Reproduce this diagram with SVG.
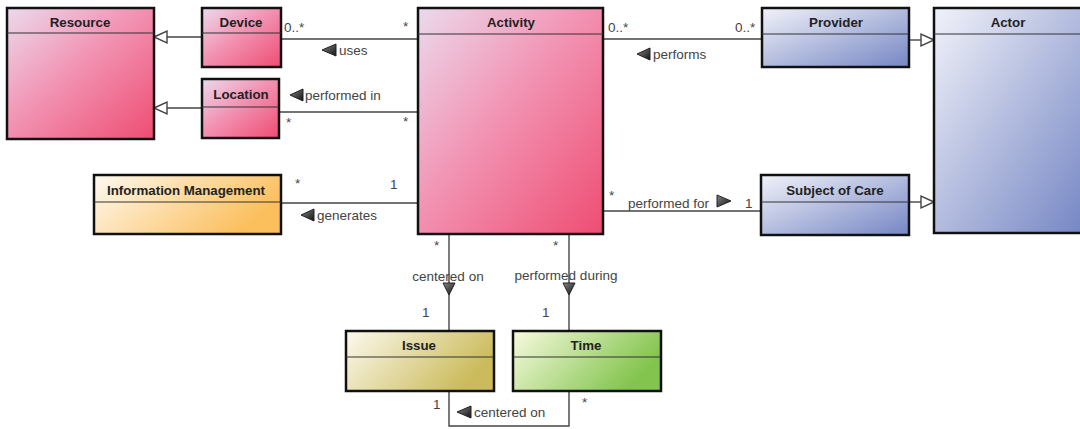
<svg xmlns="http://www.w3.org/2000/svg" width="1080" height="429" viewBox="0 0 1080 429">
<defs>
<linearGradient id="gPink" x1="0" y1="0" x2="1" y2="1"><stop offset="0" stop-color="#ebdaec"/><stop offset="0.45" stop-color="#f294b4"/><stop offset="1" stop-color="#ee4d72"/></linearGradient>
<linearGradient id="gBlue" x1="0" y1="0" x2="1" y2="1"><stop offset="0" stop-color="#f1f2f9"/><stop offset="1" stop-color="#7586c4"/></linearGradient>
<linearGradient id="gOrange" x1="0" y1="0" x2="1" y2="0.4"><stop offset="0" stop-color="#fefaf0"/><stop offset="1" stop-color="#fbbf5e"/></linearGradient>
<linearGradient id="gOlive" x1="0" y1="0" x2="1" y2="0.4"><stop offset="0" stop-color="#fcfaee"/><stop offset="1" stop-color="#cbbb5c"/></linearGradient>
<linearGradient id="gGreen" x1="0" y1="0" x2="1" y2="0.4"><stop offset="0" stop-color="#f8fadf"/><stop offset="1" stop-color="#82c44d"/></linearGradient>
<linearGradient id="gArrow" x1="0" y1="0" x2="1" y2="1"><stop offset="0" stop-color="#888"/><stop offset="1" stop-color="#111"/></linearGradient>
</defs>
<style>
.box{stroke:#111;stroke-width:2.5}
.hdr{stroke:#333;stroke-width:1.2}
.name{font-family:"Liberation Sans",Arial,sans-serif;font-weight:bold;font-size:13.3px;fill:#222;text-anchor:middle}
.lbl{font-family:"Liberation Sans",Arial,sans-serif;font-size:13.5px;fill:#444}
.ln{stroke:#444;stroke-width:1.4;fill:none}
.gen{fill:#fff;stroke:#444;stroke-width:1.4}
.ar{fill:url(#gArrow);stroke:#222;stroke-width:1}
</style>

<g id="connectors">
  <line class="ln" x1="202" y1="37" x2="167" y2="37"/>
  <polygon class="gen" points="154,37 167,31 167,43"/>
  <line class="ln" x1="202" y1="108" x2="167" y2="108"/>
  <polygon class="gen" points="154,108 167,102 167,114"/>
  <line class="ln" x1="909" y1="40" x2="921" y2="40"/>
  <polygon class="gen" points="934,40 921,34 921,46"/>
  <line class="ln" x1="909" y1="202" x2="921" y2="202"/>
  <polygon class="gen" points="934,202 921,196 921,208"/>
  <line class="ln" x1="281" y1="39" x2="418" y2="39"/>
  <text class="lbl" x="284" y="32">0..*</text>
  <text class="lbl" x="403" y="31">*</text>
  <polygon class="ar" points="322,50 336,44 336,56"/>
  <text class="lbl" x="339" y="55">uses</text>
  <line class="ln" x1="279" y1="112" x2="418" y2="112"/>
  <polygon class="ar" points="290,95 303,89 303,101"/>
  <text class="lbl" x="305" y="100">performed in</text>
  <text class="lbl" x="286" y="127">*</text>
  <text class="lbl" x="403" y="126">*</text>
  <line class="ln" x1="603" y1="39" x2="762" y2="39"/>
  <text class="lbl" x="608" y="32">0..*</text>
  <text class="lbl" x="735" y="32">0..*</text>
  <polygon class="ar" points="637,54 650,48 650,60"/>
  <text class="lbl" x="653" y="59">performs</text>
  <line class="ln" x1="281" y1="203" x2="418" y2="203"/>
  <text class="lbl" x="295" y="188">*</text>
  <text class="lbl" x="390" y="189">1</text>
  <polygon class="ar" points="301,215 314,209 314,221"/>
  <text class="lbl" x="317" y="220">generates</text>
  <line class="ln" x1="604" y1="211" x2="761" y2="211"/>
  <text class="lbl" x="609" y="200">*</text>
  <text class="lbl" x="628" y="208">performed for</text>
  <polygon class="ar" points="731,201 717,195 717,207"/>
  <text class="lbl" x="745" y="208">1</text>
  <line class="ln" x1="449" y1="234" x2="449" y2="331"/>
  <text class="lbl" x="434" y="250">*</text>
  <text class="lbl" x="448" y="281" text-anchor="middle">centered on</text>
  <polygon class="ar" points="449,295 443,283 455,283"/>
  <text class="lbl" x="422" y="317">1</text>
  <line class="ln" x1="569" y1="234" x2="569" y2="331"/>
  <text class="lbl" x="553" y="250">*</text>
  <text class="lbl" x="566" y="280" text-anchor="middle">performed during</text>
  <polygon class="ar" points="569,295 563,283 575,283"/>
  <text class="lbl" x="542" y="317">1</text>
  <polyline class="ln" points="449,391 449,426 569,426 569,391"/>
  <text class="lbl" x="433" y="409">1</text>
  <text class="lbl" x="582" y="407">*</text>
  <polygon class="ar" points="457,412 471,406 471,418"/>
  <text class="lbl" x="474" y="417">centered on</text>
</g>

<g id="resource">
  <rect class="box" x="7" y="8" width="147" height="131" fill="url(#gPink)"/>
  <line class="hdr" x1="7" y1="33" x2="154" y2="33"/>
  <text class="name" x="80" y="27">Resource</text>
</g>
<g id="device">
  <rect class="box" x="202" y="8" width="79" height="59" fill="url(#gPink)"/>
  <line class="hdr" x1="202" y1="33" x2="281" y2="33"/>
  <text class="name" x="241" y="27">Device</text>
</g>
<g id="location">
  <rect class="box" x="202" y="79" width="77" height="59" fill="url(#gPink)"/>
  <line class="hdr" x1="202" y1="107" x2="279" y2="107"/>
  <text class="name" x="241" y="99">Location</text>
</g>
<g id="activity">
  <rect class="box" x="418" y="8" width="185" height="226" fill="url(#gPink)"/>
  <line class="hdr" x1="418" y1="34" x2="603" y2="34"/>
  <text class="name" x="511" y="27">Activity</text>
</g>
<g id="provider">
  <rect class="box" x="762" y="8" width="147" height="59" fill="url(#gBlue)"/>
  <line class="hdr" x1="762" y1="34" x2="909" y2="34"/>
  <text class="name" x="836" y="27">Provider</text>
</g>
<g id="actor">
  <rect class="box" x="934" y="8" width="150" height="225" fill="url(#gBlue)"/>
  <line class="hdr" x1="934" y1="34" x2="1080" y2="34"/>
  <text class="name" x="1008" y="27">Actor</text>
</g>
<g id="subject-of-care">
  <rect class="box" x="761" y="175" width="148" height="60" fill="url(#gBlue)"/>
  <line class="hdr" x1="761" y1="202" x2="909" y2="202"/>
  <text class="name" x="835" y="195">Subject of Care</text>
</g>
<g id="information-management">
  <rect class="box" x="94" y="175" width="187" height="59" fill="url(#gOrange)"/>
  <line class="hdr" x1="94" y1="202" x2="281" y2="202"/>
  <text class="name" x="186" y="195">Information Management</text>
</g>
<g id="issue">
  <rect class="box" x="346" y="331" width="148" height="60" fill="url(#gOlive)"/>
  <line class="hdr" x1="346" y1="357" x2="494" y2="357"/>
  <text class="name" x="419" y="350">Issue</text>
</g>
<g id="time">
  <rect class="box" x="513" y="331" width="148" height="60" fill="url(#gGreen)"/>
  <line class="hdr" x1="513" y1="357" x2="661" y2="357"/>
  <text class="name" x="586" y="350">Time</text>
</g>
</svg>
